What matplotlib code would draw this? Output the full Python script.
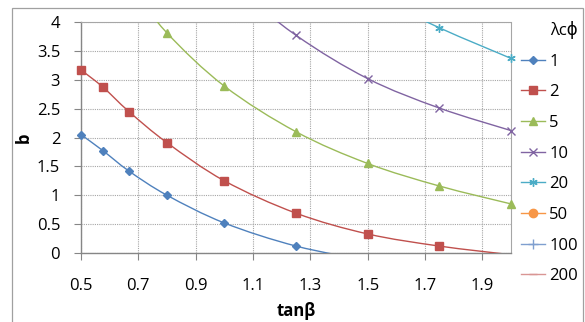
import numpy as np
import matplotlib
matplotlib.use("Agg")
import matplotlib.pyplot as plt
from matplotlib.path import Path
from matplotlib.patches import PathPatch, Rectangle

plt.rcParams['font.family'] = ['Open Sans', 'DejaVu Sans']

# data (points above 4 or below 0 are clipped in the original)
x_all = [0.5, 0.577, 0.667, 0.8, 1.0, 1.25, 1.5, 1.75, 2.0]
b_1 = [2.05, 1.77, 1.42, 1.00, 0.52, 0.12, -0.13, None, None]
b_2 = [3.17, 2.87, 2.45, 1.91, 1.25, 0.69, 0.33, 0.12, -0.03]
b_5 = [None, None, 4.65, 3.81, 2.89, 2.10, 1.55, 1.16, 0.85]
b_10 = [None, None, None, None, 4.75, 3.77, 3.02, 2.51, 2.12]
b_20 = [None, None, None, None, None, None, 4.50, 3.90, 3.37]
b_50 = []
b_100 = []
b_200 = []

labels = ['1', '2', '5', '10', '20', '50', '100', '200']
series = [b_1, b_2, b_5, b_10, b_20, b_50, b_100, b_200]
colors = ['#4F81BD', '#C0504D', '#9BBB59', '#8064A2', '#4BACC6', '#F79646', '#7F9FCF', '#D99694']
markers = ['D', 's', '^', 'x', (6, 2, 0), 'o', '+', '_']
msizes = [4, 6, 6, 6, 6, 6, 7, 6]

y_lo, y_hi = 0, 4


def smooth_path(px, py):
    # excel-like smoothed line (catmull-rom as bezier)
    p = np.column_stack([px, py])
    verts = [p[0]]
    codes = [Path.MOVETO]
    for i in range(len(p) - 1):
        p0 = p[i - 1] if i > 0 else p[i]
        p1, p2 = p[i], p[i + 1]
        p3 = p[i + 2] if i + 2 < len(p) else p[i + 1]
        c1 = p1 + (p2 - p0) / 6.0
        c2 = p2 - (p3 - p1) / 6.0
        verts += [c1, c2, p2]
        codes += [Path.CURVE4] * 3
    return Path(verts, codes)


fig = plt.figure(figsize=(5.85, 3.22), dpi=100)
fig.patches.append(Rectangle((12 / 585, -0.01), 571 / 585, 1.01 - 8 / 322, transform=fig.transFigure,
                             fill=False, edgecolor='#A0A0A0', lw=0.9))
ax = fig.add_axes([81 / 585, 69 / 322, 430 / 585, 231 / 322])

for vals, lab, c, m, ms in zip(series, labels, colors, markers, msizes):
    pts = [(x, v) for x, v in zip(x_all, vals) if v is not None]
    if len(pts) > 1:
        px = [q[0] for q in pts]
        py = [q[1] for q in pts]
        ax.add_patch(PathPatch(smooth_path(px, py), fill=False, edgecolor=c, lw=1.0, zorder=3))
        inside = [(a, v) for a, v in pts if y_lo <= v <= y_hi]
        ax.plot([q[0] for q in inside], [q[1] for q in inside], ls='none', marker=m, ms=ms,
                color=c, mec=c, zorder=4, clip_on=False)
    ax.plot([], [], marker=m, ms=ms, color=c, lw=1.0, label=lab)

ax.set_xlim(0.5, 2.0)
ax.set_ylim(y_lo, y_hi)
ax.set_xticks(np.arange(0.5, 2.0, 0.2))
ax.set_xticklabels(['0.5', '0.7', '0.9', '1.1', '1.3', '1.5', '1.7', '1.9'])
ax.set_yticks(np.arange(0, 4.01, 0.5))
ax.set_yticklabels(['0', '0.5', '1', '1.5', '2', '2.5', '3', '3.5', '4'])
ax.grid(True, color='#A6A6A6', ls=(0, (1, 1)), lw=0.8)
ax.set_axisbelow(True)
for s in ['top', 'right']:
    ax.spines[s].set_color('#A6A6A6')
    ax.spines[s].set_linestyle((0, (1, 1)))
    ax.spines[s].set_linewidth(0.8)
for s in ['left', 'bottom']:
    ax.spines[s].set_color('#868686')
    ax.spines[s].set_linewidth(1.0)
fs = 12
ax.tick_params(axis='y', length=5, color='#868686', labelsize=fs, pad=10)
ax.tick_params(axis='x', length=5, color='#868686', labelsize=fs, pad=13)
ax.set_xlabel('tanβ', fontsize=fs, fontweight='bold', labelpad=6)
ax.set_ylabel('b', fontsize=fs, fontweight='bold', labelpad=3)

leg = fig.legend(*ax.get_legend_handles_labels(), title='λcϕ', loc='upper left',
                 bbox_to_anchor=(521 / 585, 1 - 21 / 322), frameon=False,
                 fontsize=fs, title_fontsize=fs, handlelength=1.45, handletextpad=0.25,
                 labelspacing=0.88, borderaxespad=0, borderpad=0)
leg._legend_box.align = 'right'

fig.savefig('out.png', dpi=100)
